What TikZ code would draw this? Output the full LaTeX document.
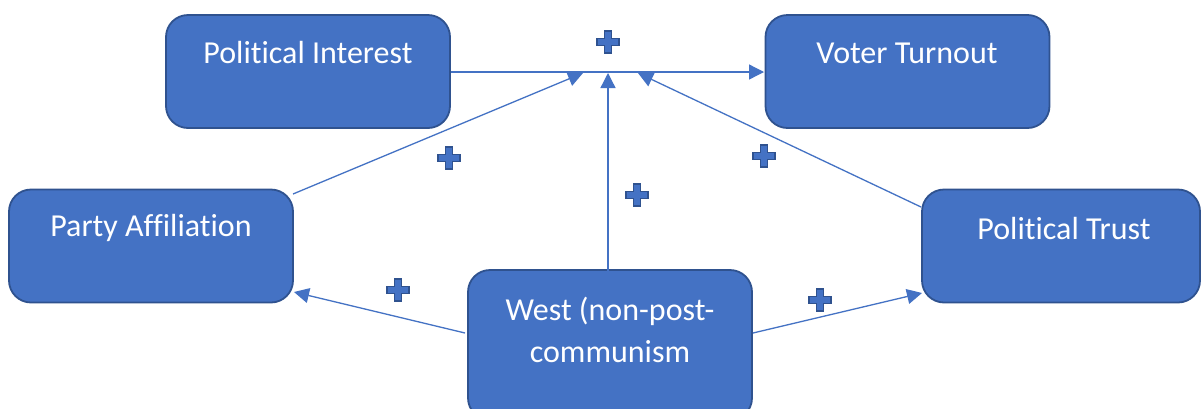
\documentclass[tikz,border=0pt]{standalone}
\usepackage{fontspec}
\setmainfont[Ligatures=NoCommon]{Carlito}
\usetikzlibrary{arrows.meta}
\definecolor{boxfill}{HTML}{4472C4}
\definecolor{boxdraw}{HTML}{2F528F}
\definecolor{linecol}{HTML}{4472C4}
\tikzset{
  boxnode/.style={rectangle, rounded corners=22pt, draw=boxdraw, line width=1.8pt, fill=boxfill, minimum width=284pt, minimum height=113pt, inner sep=0pt},
  boxtext/.style={text=white, font=\fontsize{32}{38}\selectfont, inner sep=0pt, align=center},
  conn/.style={draw=linecol, line width=1.3pt, -{Triangle[length=15pt,width=15pt]}},
  plussign/.pic={
    \draw[fill=boxfill, draw=boxdraw, line width=1.4pt]
      (-3.5,-11) -- (3.5,-11) -- (3.5,-3.5) -- (11,-3.5) -- (11,3.5) -- (3.5,3.5) -- (3.5,11)
      -- (-3.5,11) -- (-3.5,3.5) -- (-11,3.5) -- (-11,-3.5) -- (-3.5,-3.5) -- cycle;
  }
}
\begin{document}
\begin{tikzpicture}[x=1pt,y=-1pt]
\useasboundingbox (0,0) rectangle (1202,408);
\clip (0,0) rectangle (1202,408);
\fill[white] (0,0) rectangle (1202,408);
% boxes
\node[boxnode] (pi) at (308,71.5) {};
\node[boxnode] (vt) at (907.5,71.5) {};
\node[boxnode] (pa) at (151,246) {};
\node[boxnode, minimum width=278pt] (pt) at (1061,246) {};
\node[boxnode, minimum height=150pt] (we) at (610,345) {};
% texts
\node[boxtext] (piT) at (308,53) {Political Interest};
\node[boxtext] (vtT) at (907,53) {Voter Turnout};
\node[boxtext] (paT) at (151,228) {Party Affiliation};
\node[boxtext] (ptT) at (1064,229) {Political Trust};
\node[boxtext] (weT1) at (610,311) {West (non-post-};
\node[boxtext] (weT2) at (610,352) {communism};
% connector anchors
\coordinate (piR) at (451,72);
\coordinate (vtL) at (764,72);
\coordinate (tipL) at (583,73);
\coordinate (tipM) at (608,73);
\coordinate (tipR) at (638,73);
\coordinate (paTR) at (293,194);
\coordinate (weTop) at (608,271);
\coordinate (ptTL) at (921,207);
\coordinate (weL) at (465,333);
\coordinate (paBR) at (294,292);
\coordinate (weR) at (753,333);
\coordinate (ptBL) at (922,293);
% connectors
\draw[conn] (piR) -- (vtL);
\draw[conn] (paTR) -- (tipL);
\draw[conn] (weTop) -- (tipM);
\draw[conn] (ptTL) -- (tipR);
\draw[conn] (weL) -- (paBR);
\draw[conn] (weR) -- (ptBL);
% plus signs
\pic at (608,42) {plussign};
\pic at (449,158) {plussign};
\pic at (637,195) {plussign};
\pic at (764,156) {plussign};
\pic at (398,290) {plussign};
\pic at (820,300) {plussign};
\end{tikzpicture}
\end{document}
